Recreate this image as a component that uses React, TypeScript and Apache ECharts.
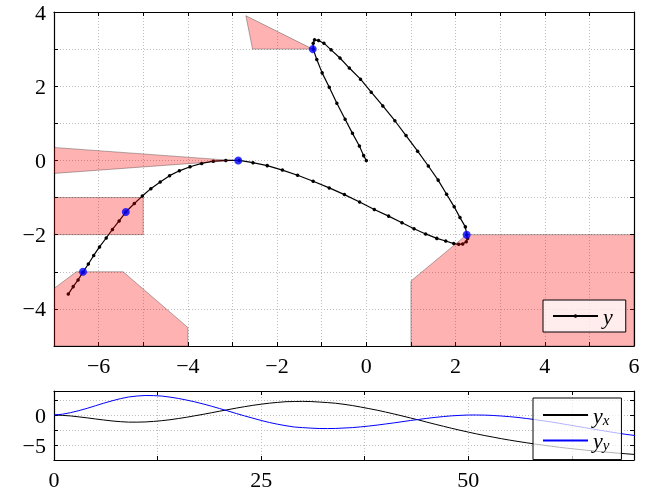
import React, { useEffect, useRef } from 'react';
import * as echarts from 'echarts';

const trajX = [
  0, -0.06, -0.155, -0.31, -0.475, -0.66, -0.83, -0.99, -1.11, -1.19,
  -1.19, -1.16, -1.07, -0.95, -0.79, -0.59, -0.38, -0.13, 0.11, 0.37,
  0.64, 0.89, 1.15, 1.39, 1.61, 1.8, 1.97, 2.1, 2.22, 2.25,
  2.27, 2.24, 2.16, 2.07, 1.96, 1.78, 1.58, 1.33, 1.07, 0.8,
  0.5, 0.18, -0.15, -0.49, -0.83, -1.19, -1.54, -1.88, -2.22, -2.54,
  -2.85, -3.15, -3.43, -3.69, -3.95, -4.19, -4.41, -4.62, -4.83, -5.02,
  -5.2, -5.39, -5.54, -5.69, -5.83, -5.98, -6.11, -6.23, -6.35, -6.46,
  -6.57, -6.68,
];
const trajY = [
  0, 0.13, 0.39, 0.73, 1.11, 1.54, 1.97, 2.36, 2.72, 3.0,
  3.16, 3.25, 3.23, 3.16, 2.98, 2.76, 2.49, 2.19, 1.84, 1.47,
  1.07, 0.67, 0.25, -0.15, -0.53, -0.91, -1.25, -1.54, -1.79, -2.0,
  -2.1, -2.19, -2.25, -2.26, -2.24, -2.17, -2.1, -1.98, -1.84, -1.68,
  -1.5, -1.32, -1.12, -0.92, -0.74, -0.56, -0.4, -0.26, -0.14, -0.06,
  0.0, 0.0, -0.02, -0.08, -0.17, -0.28, -0.41, -0.58, -0.76, -0.96,
  -1.16, -1.39, -1.63, -1.86, -2.09, -2.33, -2.56, -2.79, -3.01, -3.22,
  -3.4, -3.6,
];

// Waypoints (blue dots)
const waypointX = [-1.2, 2.25, -2.87, -5.39, -6.35];
const waypointY = [3.0, -2.0, 0.0, -1.39, -3.0];

// Obstacles (polygon vertices in data units)
const obstacleTop = [[-2.7, 3.9], [-2.55, 3.0], [-1.2, 3.0]];
const obstacleWedge = [[-7, 0.35], [-3.0, 0.0], [-7, -0.35]];
const obstacleBox = [[-7, -1], [-5, -1], [-5, -2], [-7, -2]];
const obstacleLowerLeft = [[-7, -5], [-7, -3.45], [-6.5, -3], [-5.45, -3], [-4, -4.5], [-4, -5]];
const obstacleLowerRight = [[1, -5], [1, -3.25], [2.25, -2], [6, -2], [6, -5]];
const obstacles = [obstacleTop, obstacleWedge, obstacleBox, obstacleLowerLeft, obstacleLowerRight];

// Axis ranges and ticks
const mainXRange = [-7, 6];
const mainYRange = [-5, 4];
const mainTickStep = 1;
const mainLabelStep = 2;
const timeRange = [0, 70];
const timeTickStep = 12.5;
const timeLabelStep = 25;
const compRange = [-7.5, 4];
const compTickStep = 2.5;
const compLabelStep = 5;

const FONT = "'Liberation Serif', 'DejaVu Serif', serif";
const fmt = (v: number) => (v < 0 ? '\u2212' + Math.abs(v) : String(v));
const isMult = (v: number, s: number) => Math.abs(v / s - Math.round(v / s)) < 1e-6;

export default function App() {
  const ref = useRef<HTMLDivElement>(null);
  useEffect(() => {
    if (!ref.current) return;
    const chart = echarts.init(ref.current, undefined, { renderer: 'svg' });
    const axisLine = { show: true, onZero: false, lineStyle: { color: '#000', width: 1.2 } };
    const axisTick = { show: true, inside: true, length: 4, lineStyle: { color: '#000', width: 1 } };
    const gridLine = { show: true, lineStyle: { color: '#bdbdbd', width: 1, type: [1, 2] as any } };
    const label = (step: number) => ({
      show: true,
      fontSize: 22,
      fontFamily: FONT,
      color: '#000',
      margin: 8,
      formatter: (v: number) => (isMult(v, step) ? fmt(v) : ''),
    });
    const hidden = { show: false };

    const mkX = (grid: number, range: number[], step: number, lstep: number, pos: string, main: boolean) => ({
      type: 'value', gridIndex: grid, min: range[0], max: range[1], interval: step, position: pos,
      axisLine, axisTick,
      axisLabel: main ? label(lstep) : hidden,
      splitLine: main ? gridLine : hidden,
    });

    const option: any = {
      animation: false,
      grid: [
        { left: 54, top: 12, width: 580, height: 334 },
        { left: 54, top: 391, width: 580, height: 69 },
      ],
      xAxis: [
        mkX(0, mainXRange, mainTickStep, mainLabelStep, 'bottom', true),
        mkX(0, mainXRange, mainTickStep, mainLabelStep, 'top', false),
        mkX(1, timeRange, timeTickStep, timeLabelStep, 'bottom', true),
        mkX(1, timeRange, timeTickStep, timeLabelStep, 'top', false),
      ],
      yAxis: [
        mkX(0, mainYRange, mainTickStep, mainLabelStep, 'left', true),
        mkX(0, mainYRange, mainTickStep, mainLabelStep, 'right', false),
        mkX(1, compRange, compTickStep, compLabelStep, 'left', true),
        mkX(1, compRange, compTickStep, compLabelStep, 'right', false),
      ],
      legend: [
        {
          data: [{ name: 'y' }],
          left: 543, top: 300,
          padding: [5, 13, 5, 9],
          itemWidth: 45, itemHeight: 4.5,
          backgroundColor: 'rgba(255,255,255,0.75)',
          borderColor: '#000', borderWidth: 1, borderRadius: 0,
          textStyle: { fontSize: 22, fontFamily: FONT, fontStyle: 'italic', color: '#000', lineHeight: 22 },
        },
        {
          data: [{ name: 'y_x' }, { name: 'y_y' }],
          orient: 'vertical',
          left: 533, top: 398,
          padding: [6, 12, 7, 9],
          itemWidth: 45, itemHeight: 10, itemGap: 2.6,
          itemStyle: { opacity: 0 },
          backgroundColor: 'rgba(255,255,255,0.7)',
          borderColor: '#000', borderWidth: 1, borderRadius: 0,
          formatter: (name: string) => (name === 'y_x' ? '{v|y}{s|x}' : '{v|y}{s|y}'),
          textStyle: {
            color: '#000',
            lineHeight: 18,
            rich: {
              v: { fontSize: 22, fontFamily: FONT, fontStyle: 'italic', color: '#000' },
              s: { fontSize: 15, fontFamily: FONT, fontStyle: 'italic', color: '#000', padding: [9, 0, 0, 0] },
            },
          },
        },
      ],
      series: [
        {
          name: 'y', type: 'line', xAxisIndex: 0, yAxisIndex: 0, z: 2,
          data: trajX.map((x, i) => [x, trajY[i]]),
          symbol: 'circle', symbolSize: 3.5, showSymbol: true,
          color: '#000',
          lineStyle: { color: '#000', width: 1.2 },
          itemStyle: { color: '#000' },
        },
        {
          name: 'obstacles', type: 'custom', xAxisIndex: 0, yAxisIndex: 0, z: 3, clip: true,
          data: obstacles.map((p) => p[0]),
          renderItem: (params: any, api: any) => {
            const poly = obstacles[params.dataIndex];
            return {
              type: 'polygon',
              shape: { points: poly.map((p) => api.coord(p)) },
              style: { fill: '#ff0000', stroke: '#000', lineWidth: 1, opacity: 0.3 },
            };
          },
        },
        {
          name: 'waypoints', type: 'scatter', xAxisIndex: 0, yAxisIndex: 0, z: 4,
          data: waypointX.map((x, i) => [x, waypointY[i]]),
          symbol: 'circle', symbolSize: 8,
          itemStyle: { color: '#0000ff' },
        },
        {
          name: 'y_x', type: 'line', xAxisIndex: 2, yAxisIndex: 2, z: 2,
          data: trajX.map((x, i) => [i, x]),
          symbol: 'none', showSymbol: false, color: '#000',
          lineStyle: { color: '#000', width: 1 },
        },
        {
          name: 'y_y', type: 'line', xAxisIndex: 2, yAxisIndex: 2, z: 2,
          data: trajY.map((y, i) => [i, y]),
          symbol: 'none', showSymbol: false, color: '#0000ff',
          lineStyle: { color: '#0000ff', width: 1 },
        },
      ],
    };
    chart.setOption(option);
    return () => chart.dispose();
  }, []);
  return <div ref={ref} style={{ position: 'fixed', left: 0, top: 0, width: 665, height: 494 }} />;
}
